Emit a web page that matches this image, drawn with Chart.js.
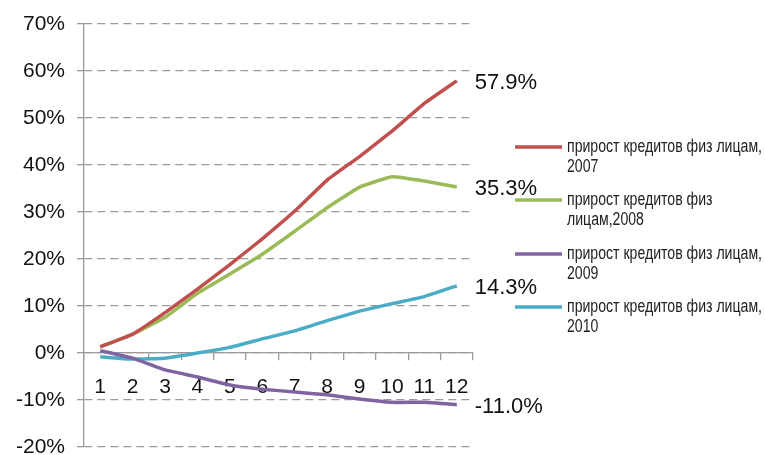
<!DOCTYPE html>
<html>
<head>
<meta charset="utf-8">
<script src="https://cdn.jsdelivr.net/npm/chart.js@4/dist/chart.umd.min.js"></script>
<style>
  html, body { margin: 0; padding: 0; background: #fff; }
  #wrap { width: 765px; height: 455px; }
</style>
</head>
<body>
<div id="wrap"><canvas id="grafico" width="765" height="455"></canvas></div>
<script>
// месяцы
var meses = ['1', '2', '3', '4', '5', '6', '7', '8', '9', '10', '11', '12'];

// прирост кредитов физ лицам, % с начала года
var prirost2007 = [1.3, 4.0, 8.6, 13.6, 18.8, 24.3, 30.2, 36.8, 41.8, 47.2, 53.1, 57.9];
var prirost2008 = [1.3, 4.0, 7.6, 12.7, 16.8, 21.0, 25.9, 30.9, 35.3, 37.5, 36.6, 35.3];
var prirost2009 = [0.5, -1.1, -3.6, -5.1, -6.8, -7.7, -8.3, -8.9, -9.8, -10.5, -10.5, -11.0];
var prirost2010 = [-0.8, -1.3, -1.1, 0.0, 1.2, 3.0, 4.7, 6.9, 8.9, 10.5, 12.0, 14.3];

// подписи легенды (по строкам)
var nomes = [
    ['прирост кредитов физ лицам,', '2007'],
    ['прирост кредитов физ', 'лицам,2008'],
    ['прирост кредитов физ лицам,', '2009'],
    ['прирост кредитов физ лицам,', '2010']
];
var cores = ['#C0504D', '#9BBB59', '#8064A2', '#4BACC6'];

// подпись последнего значения справа от линии
var rotuloFinal = {
    id: 'rotuloFinal',
    afterDatasetsDraw: function (chart) {
        var ctx = chart.ctx;
        ctx.save();
        ctx.font = '22px "Liberation Sans", Arial, sans-serif';
        ctx.fillStyle = '#111';
        ctx.textAlign = 'left';
        ctx.textBaseline = 'middle';
        chart.data.datasets.forEach(function (ds, i) {
            var pts = chart.getDatasetMeta(i).data;
            var p = pts[pts.length - 1];
            var v = ds.data[ds.data.length - 1];
            ctx.fillText(v.toFixed(1) + '%', p.x + 18, p.y + 2);
        });
        ctx.restore();
    }
};

// легенда справа, подписи в две строки, шрифт сжат по ширине
var legenda = {
    id: 'legenda',
    afterDraw: function (chart) {
        var ctx = chart.ctx;
        var topo = [147, 200, 254, 307];
        ctx.save();
        ctx.font = '18px "Liberation Sans", Arial, sans-serif';
        ctx.textAlign = 'left';
        ctx.textBaseline = 'middle';
        var sx = 195 / ctx.measureText(nomes[0][0]).width;
        chart.data.datasets.forEach(function (ds, i) {
            var y = topo[i];
            ctx.strokeStyle = ds.borderColor;
            ctx.lineWidth = 3.5;
            ctx.beginPath();
            ctx.moveTo(515, y);
            ctx.lineTo(562, y);
            ctx.stroke();
            ctx.fillStyle = '#222';
            nomes[i].forEach(function (linha, k) {
                ctx.save();
                ctx.translate(567, y + k * 20);
                ctx.scale(sx, 1);
                ctx.fillText(linha, 0, 0);
                ctx.restore();
            });
        });
        ctx.restore();
    }
};

var series = [prirost2007, prirost2008, prirost2009, prirost2010];

var ctx = document.getElementById('grafico').getContext('2d');
var grafico = new Chart(ctx, {
    type: 'line',
    data: {
        labels: meses,
        datasets: series.map(function (s, i) {
            return {
                label: nomes[i].join(' '),
                data: s,
                borderColor: cores[i],
                backgroundColor: cores[i],
                borderWidth: 3.5,
                pointRadius: 0,
                tension: 0.1,
                fill: false
            };
        })
    },
    options: {
        responsive: false,
        animation: false,
        layout: { padding: { left: 0, top: 24, right: 292, bottom: 8 } },
        plugins: {
            legend: { display: false },
            tooltip: { enabled: false }
        },
        scales: {
            x: {
                position: { y: 0 },
                offset: true,
                grid: {
                    offset: true,
                    drawOnChartArea: false,
                    drawTicks: true,
                    tickLength: 7,
                    color: '#9a9a9a',
                    lineWidth: 1.3
                },
                border: { color: '#9a9a9a', width: 1.3 },
                ticks: {
                    padding: 15,
                    color: '#111',
                    maxRotation: 0,
                    font: { family: '"Liberation Sans", Arial, sans-serif', size: 21 }
                }
            },
            y: {
                min: -20,
                max: 70,
                afterFit: function (scale) {
                    scale.width = 84;
                    scale.paddingTop = 0;
                    scale.paddingBottom = 0;
                },
                grid: {
                    color: '#9a9a9a',
                    lineWidth: 1.3,
                    tickLength: 7
                },
                border: { color: '#9a9a9a', width: 1.3, dash: [8, 5] },
                ticks: {
                    stepSize: 10,
                    padding: 12,
                    color: '#111',
                    font: { family: '"Liberation Sans", Arial, sans-serif', size: 21 },
                    callback: function (v) { return v + '%'; }
                }
            }
        }
    },
    plugins: [rotuloFinal, legenda]
});
</script>
</body>
</html>
